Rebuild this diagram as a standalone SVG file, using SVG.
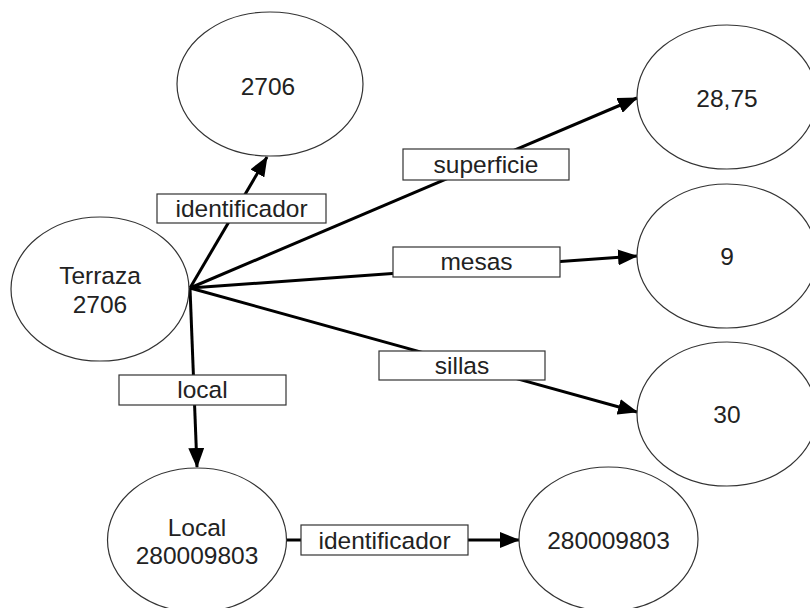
<svg xmlns="http://www.w3.org/2000/svg" width="810" height="608" viewBox="0 0 810 608">
<style>
.node ellipse{fill:#fff;stroke:#333;stroke-width:1.2}
.node text{font-family:"Liberation Sans",Arial,sans-serif;font-size:24.5px;fill:#222;text-anchor:middle}
.edge{stroke:#000;stroke-width:3;fill:none}
.lbl rect{fill:#fff;stroke:#333;stroke-width:1.2}
.lbl text{font-family:"Liberation Sans",Arial,sans-serif;font-size:24.5px;fill:#222;text-anchor:middle}
</style>
<defs>
<marker id="arr" markerUnits="userSpaceOnUse" markerWidth="20" markerHeight="16" refX="19" refY="8" orient="auto">
<path d="M0,0 L20,8 L0,16 z" fill="#000"/>
</marker>
</defs>
<rect width="810" height="608" fill="#fff"/>
<g id="connectors">
<line class="edge" x1="190" y1="288" x2="267" y2="157" marker-end="url(#arr)"/>
<line class="edge" x1="190" y1="288" x2="637" y2="98" marker-end="url(#arr)"/>
<line class="edge" x1="190" y1="288" x2="637" y2="256" marker-end="url(#arr)"/>
<line class="edge" x1="190" y1="288" x2="637" y2="412" marker-end="url(#arr)"/>
<line class="edge" x1="190" y1="288" x2="197" y2="467" marker-end="url(#arr)"/>
<line class="edge" x1="286" y1="540" x2="519" y2="540" marker-end="url(#arr)"/>
<g class="lbl">
<rect x="157" y="194" width="169" height="29"/>
<text x="241.5" y="217">identificador</text>
<rect x="403" y="149" width="166" height="31"/>
<text x="486" y="173">superficie</text>
<rect x="393" y="247" width="167" height="30"/>
<text x="476.5" y="270">mesas</text>
<rect x="379" y="351" width="166" height="29"/>
<text x="462" y="374">sillas</text>
<rect x="119" y="375" width="167" height="30"/>
<text x="202.5" y="398">local</text>
<rect x="301" y="525" width="167" height="30"/>
<text x="384.5" y="549">identificador</text>
</g>
</g>
<g id="terraza" class="node">
<ellipse cx="100" cy="289" rx="89" ry="72"/>
<text x="100" y="284">Terraza</text>
<text x="100" y="313">2706</text>
</g>
<g id="n2706" class="node">
<ellipse cx="270" cy="84" rx="93" ry="72"/>
<text x="268" y="95">2706</text>
</g>
<g id="n2875" class="node">
<ellipse cx="727" cy="97" rx="90" ry="72"/>
<text x="727" y="107">28,75</text>
</g>
<g id="n9" class="node">
<ellipse cx="727" cy="256" rx="90" ry="72"/>
<text x="727" y="265">9</text>
</g>
<g id="n30" class="node">
<ellipse cx="727" cy="414" rx="90" ry="72"/>
<text x="727" y="423">30</text>
</g>
<g id="local" class="node">
<ellipse cx="197" cy="540" rx="89.5" ry="72"/>
<text x="197" y="536">Local</text>
<text x="197" y="564">280009803</text>
</g>
<g id="n280009803" class="node">
<ellipse cx="608.5" cy="539" rx="89.5" ry="72"/>
<text x="608.5" y="549">280009803</text>
</g>
</svg>
